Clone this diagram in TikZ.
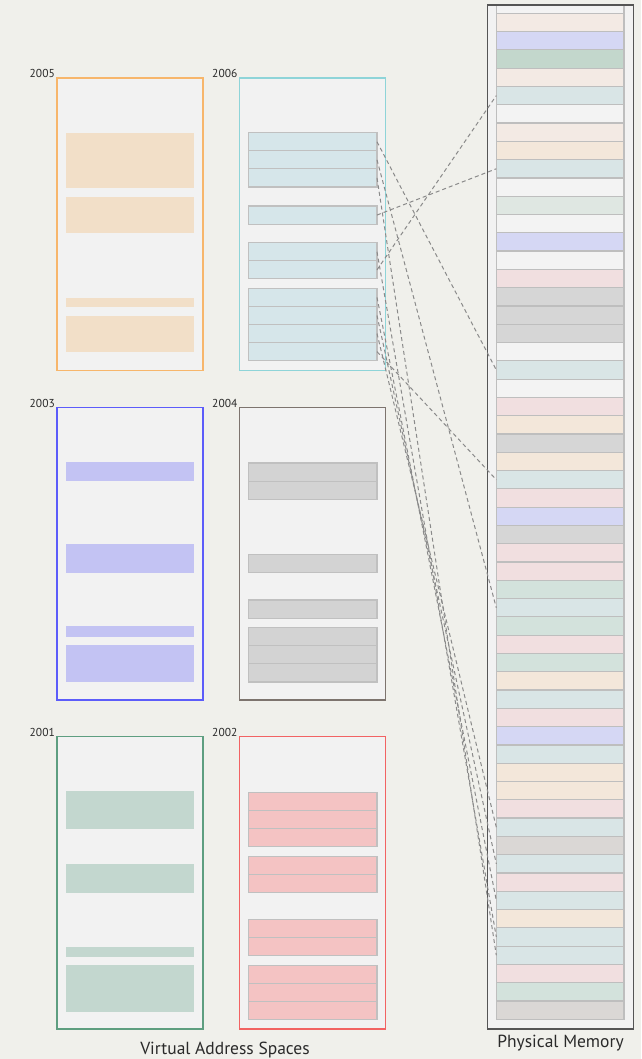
\documentclass[tikz,border=0pt]{standalone}
\usepackage{fontspec}
\setmainfont{PT Sans}
\usepackage{xcolor}
\usetikzlibrary{positioning}
% sheet and boxes
\definecolor{sheet}{HTML}{F0F0EB}
\definecolor{boxfill}{HTML}{F2F2F2}
\definecolor{pageline}{HTML}{C0C0C0}
\definecolor{rowline}{HTML}{BEBEBE}
\definecolor{linkgray}{HTML}{8A8A8A}
\definecolor{labelgray}{HTML}{2A2A2A}
\definecolor{framegray}{HTML}{555555}
% one colour pair per process
\definecolor{edgeA}{HTML}{F7B66B}\definecolor{pageA}{HTML}{F2DFC8}
\definecolor{edgeB}{HTML}{8ED4D8}\definecolor{pageB}{HTML}{D6E6EA}
\definecolor{edgeC}{HTML}{5C5CFA}\definecolor{pageC}{HTML}{C3C3F3}
\definecolor{edgeD}{HTML}{7D746E}\definecolor{pageD}{HTML}{D3D3D3}
\definecolor{edgeE}{HTML}{5E9E80}\definecolor{pageE}{HTML}{C3D7CF}
\definecolor{edgeF}{HTML}{F26363}\definecolor{pageF}{HTML}{F4C3C3}
% physical frames
\definecolor{memW}{HTML}{F3F3F3}
\definecolor{memPe}{HTML}{F3EAE4}
\definecolor{memB}{HTML}{D5D7F4}
\definecolor{memG}{HTML}{C3D7CC}
\definecolor{memT}{HTML}{D9E5E6}
\definecolor{memO}{HTML}{F3E7DA}
\definecolor{memGl}{HTML}{DFE7E2}
\definecolor{memPk}{HTML}{F1DFE0}
\definecolor{memGy}{HTML}{D6D6D6}
\definecolor{memGn}{HTML}{D3E2DC}
\definecolor{memWg}{HTML}{DAD7D5}

\begin{document}
\begin{tikzpicture}[x=1pt, y=-1pt,
  vspace/.style={line width=1.5pt, fill=boxfill, minimum width=146pt, minimum height=292.5pt,
                 anchor=north west, inner sep=0pt, outer sep=0pt},
  seg/.style={anchor=north west, minimum width=128pt, inner sep=0pt, outer sep=0pt},
  vpage/.style={seg, draw=pageline, line width=1.1pt, minimum width=128.3pt, minimum height=18.1pt},
  memframe/.style={draw=framegray, line width=1.3pt, fill=boxfill, minimum width=146pt,
                   minimum height=1024pt, anchor=north west, inner sep=0pt, outer sep=0pt},
  mrow/.style={anchor=north west, draw=rowline, line width=1.2pt, minimum width=127.7pt,
               minimum height=18.29pt, inner sep=0pt, outer sep=0pt},
  link/.style={draw=linkgray, line width=1pt, dash pattern=on 4pt off 3pt},
  year/.style={font=\fontsize{11.5}{13}\selectfont, text=labelgray, anchor=base east, inner sep=0pt},
  caption/.style={font=\fontsize{17.5}{20}\selectfont, text=labelgray},
]
\path[use as bounding box, fill=sheet] (0,0) rectangle (641,1059);

% Virtual address spaces
\node[vspace, draw=edgeA] (v5) at (57,78) {};
\node[vspace, draw=edgeB] (v6) at (239.5,78) {};
\node[vspace, draw=edgeC] (v3) at (57,407.3) {};
\node[vspace, draw=edgeD] (v4) at (239.5,407.3) {};
\node[vspace, draw=edgeE] (v1) at (57,736.7) {};
\node[vspace, draw=edgeF] (v2) at (239.5,736.7) {};
\foreach \v/\t in {v5/2005, v6/2006, v3/2003, v4/2004, v1/2001, v2/2002} {
  \node[year] (\v lbl) at ([xshift=-2pt]\v.north west) {\t};
}

% plain segments
\foreach \y/\h [count=\k] in {133/54.7, 197/36.3, 297.7/9, 316/36.3}
  \node[seg, fill=pageA, minimum height=\h pt] (v5s\k) at (66,\y) {};
\foreach \y/\h [count=\k] in {461.7/19.3, 544.3/28.4, 626.3/10.4, 645/37.3}
  \node[seg, fill=pageC, minimum height=\h pt] (v3s\k) at (66,\y) {};
\foreach \y/\h [count=\k] in {791/38, 864.3/28.4, 946.7/10, 965/46.7}
  \node[seg, fill=pageE, minimum height=\h pt] (v1s\k) at (66,\y) {};

% paged segments
\foreach \y [count=\k] in {132.7,150.8,168.9,206,242.7,260.8,288.3,306.4,324.5,342.6}
  \node[vpage, fill=pageB] (v6p\k) at (248.7,\y) {};
\foreach \y [count=\k] in {463,481.1,554.3,600,627.7,645.8,663.9}
  \node[vpage, fill=pageD] (v4p\k) at (248.7,\y) {};
\foreach \y [count=\k] in {792.3,810.4,828.5,856.3,874.4,919.7,937.8,965.3,983.4,1001.5}
  \node[vpage, fill=pageF] (v2p\k) at (248.7,\y) {};

% Physical memory
\node[memframe] (mem) at (487.5,5) {};
\begin{scope}
\clip (mem.north west) rectangle (mem.south east);
\foreach \c [count=\i from 0] in {W,Pe,B,G,Pe,T,W,Pe,O,T,W,Gl,W,B,W,Pk,Gy,Gy,Gy,W,T,W,Pk,O,Gy,O,T,Pk,B,Gy,
                                  Pk,Pk,Gn,T,Gn,Pk,Gn,O,T,Pk,B,T,O,O,Pk,T,Wg,T,Pk,T,O,T,T,Pk,Gn,Wg}
  \node[mrow, fill=mem\c] (m\i) at (496.3,{13.3+(\i-1)*18.29}) {};
\end{scope}
\draw[framegray, line width=1.3pt] (mem.north west) rectangle (mem.south east);

% mappings of 2006
\foreach \p/\r in {1/20, 2/33, 3/52, 4/9, 5/51, 6/5, 7/49, 8/47, 9/45, 10/26}
  \draw[link] (v6p\p.east) -- (m\r.west);

\node[caption] (vcap) at (225,1050) {Virtual Address Spaces};
\node[caption, below=3pt of mem] (pcap) {Physical Memory};
\end{tikzpicture}
\end{document}
